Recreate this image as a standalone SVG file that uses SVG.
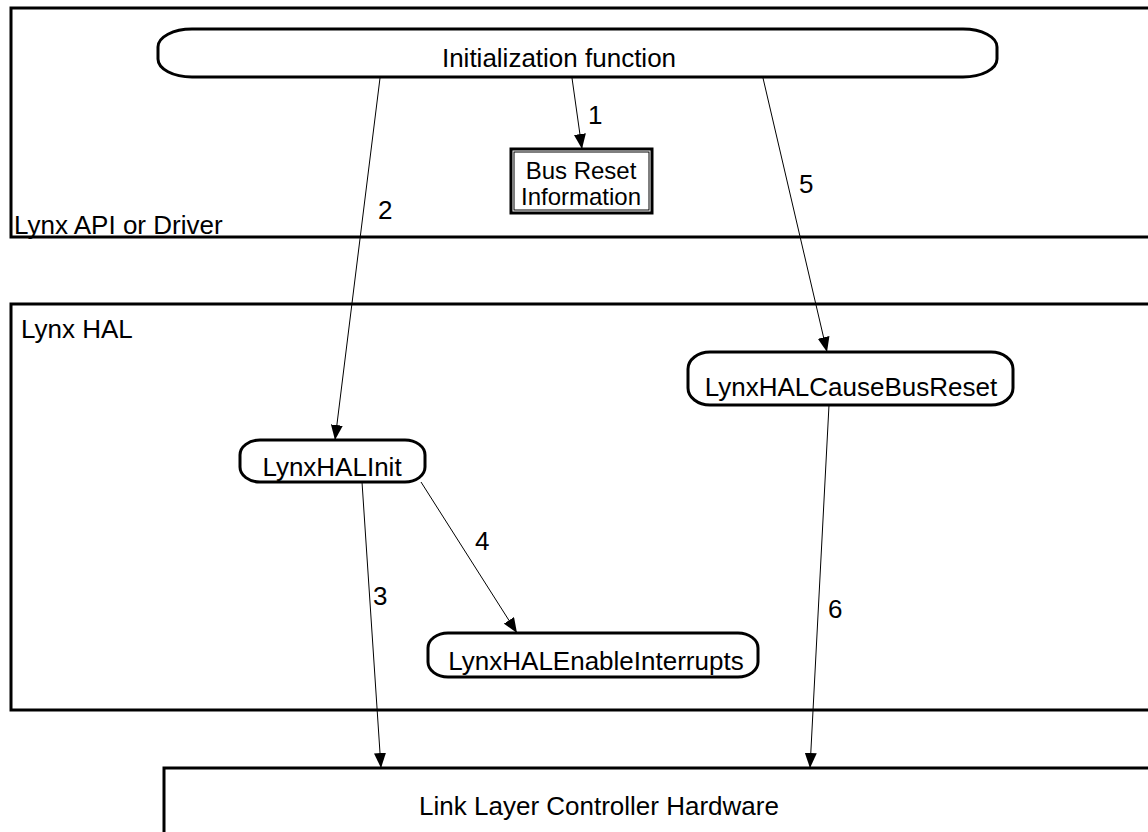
<svg xmlns="http://www.w3.org/2000/svg" width="1148" height="832" viewBox="0 0 1148 832">
<style>
.frame{fill:none;stroke:#000;stroke-width:3}
.node{fill:#fff;stroke:#000;stroke-width:3}
.conn{fill:none;stroke:#000;stroke-width:1}
text{font-family:"Liberation Sans",Arial,sans-serif;font-size:26px;fill:#000}
.c{text-anchor:middle}
.s{font-size:24px}
</style>
<defs>
<marker id="ah" markerUnits="userSpaceOnUse" markerWidth="16" markerHeight="12" refX="15" refY="6" orient="auto">
<path d="M0,0 L15,6 L0,12 z" fill="#000"/>
</marker>
</defs>
<rect width="1148" height="832" fill="#fff"/>
<g id="api-layer">
<rect class="frame" x="11" y="8" width="1160" height="229"/>
<text x="14" y="234">Lynx API or Driver</text>
</g>
<g id="hal-layer">
<rect class="frame" x="11" y="304" width="1160" height="406"/>
<text x="21" y="338">Lynx HAL</text>
</g>
<g id="init-function">
<rect class="node" x="158" y="29" width="839" height="48" rx="34" ry="18"/>
<text class="c" x="559" y="67">Initialization function</text>
</g>
<g id="bus-reset-info">
<rect class="node" x="511" y="149" width="141" height="64"/>
<rect x="514" y="152" width="135" height="58" fill="none" stroke="#000" stroke-width="1"/>
<text class="c s" x="581" y="179">Bus Reset</text>
<text class="c s" x="581" y="205">Information</text>
</g>
<g id="cause-bus-reset">
<rect class="node" x="688" y="352" width="325" height="53" rx="22" ry="17"/>
<text class="c" x="851" y="396">LynxHALCauseBusReset</text>
</g>
<g id="hal-init">
<rect class="node" x="240" y="440" width="185" height="42" rx="20" ry="15"/>
<text class="c" x="332" y="476">LynxHALInit</text>
</g>
<g id="enable-interrupts">
<rect class="node" x="428" y="633" width="330" height="44" rx="20" ry="15"/>
<text class="c" x="596" y="670">LynxHALEnableInterrupts</text>
</g>
<g id="link-layer">
<rect class="frame" x="164" y="768" width="1000" height="100"/>
<text class="c" x="599" y="815">Link Layer Controller Hardware</text>
</g>
<g id="connectors">
<line class="conn" x1="572" y1="78" x2="582" y2="149" marker-end="url(#ah)"/>
<line class="conn" x1="380" y1="78" x2="335" y2="440" marker-end="url(#ah)"/>
<line class="conn" x1="763" y1="78" x2="827" y2="352" marker-end="url(#ah)"/>
<line class="conn" x1="362" y1="482" x2="381" y2="768" marker-end="url(#ah)"/>
<line class="conn" x1="421" y1="482" x2="517" y2="633" marker-end="url(#ah)"/>
<line class="conn" x1="829" y1="405" x2="810" y2="768" marker-end="url(#ah)"/>
</g>
<g id="labels">
<text x="588" y="124">1</text>
<text x="378" y="219">2</text>
<text x="799" y="193">5</text>
<text x="475" y="550">4</text>
<text x="373" y="605">3</text>
<text x="828" y="618">6</text>
</g>
</svg>
